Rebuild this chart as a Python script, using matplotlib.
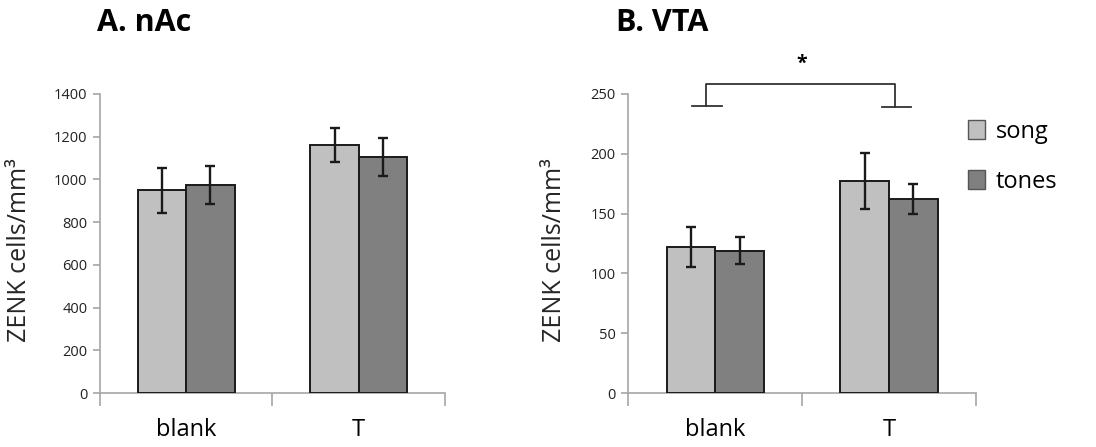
import matplotlib
matplotlib.use("Agg")
import matplotlib.pyplot as plt
import numpy as np

plt.rcParams['font.family'] = ['Open Sans', 'DejaVu Sans']

categories = ["blank", "T"]
series = ["song", "tones"]
colors = ["#C0C0C0", "#808080"]

nac_song = [950, 1162]
nac_song_err = [105, 80]
nac_tones = [975, 1105]
nac_tones_err = [88, 88]

vta_song = [122, 177.5]
vta_song_err = [17, 23.5]
vta_tones = [119, 162.5]
vta_tones_err = [11.5, 12.5]

fig = plt.figure(figsize=(10.96, 4.47), dpi=100)
axA = fig.add_axes([0.0912, 0.1208, 0.3148, 0.669])
axB = fig.add_axes([0.5733, 0.1208, 0.3172, 0.669])

spine_col = "#A6A6A6"
width = 0.28
x = np.arange(len(categories)) + 0.5
ekw = dict(elinewidth=1.7, capthick=1.7, ecolor="#1a1a1a")


def draw(ax, s, se, t, te, ymax, ystep, label_x):
    ax.bar(x - width / 2, s, width, color=colors[0], edgecolor="#1a1a1a", linewidth=1.4,
           yerr=se, capsize=3.8, error_kw=ekw, label=series[0], zorder=3)
    ax.bar(x + width / 2, t, width, color=colors[1], edgecolor="#1a1a1a", linewidth=1.4,
           yerr=te, capsize=3.8, error_kw=ekw, label=series[1], zorder=3)
    ax.set_xlim(0, 2)
    ax.set_ylim(0, ymax)
    ax.set_yticks(np.arange(0, ymax + 1, ystep))
    ax.tick_params(axis="y", labelsize=10.5, length=5, color=spine_col, labelcolor="#222222", width=1.2, pad=4)
    ax.set_xticks([0, 1, 2])
    ax.set_xticklabels([])
    ax.tick_params(axis="x", which="major", length=9, color=spine_col, width=1.2)
    ax.set_xticks(x, minor=True)
    ax.set_xticklabels(categories, minor=True, fontsize=17)
    ax.tick_params(axis="x", which="minor", length=0, pad=18)
    for sp in ["top", "right"]:
        ax.spines[sp].set_visible(False)
    for sp in ["left", "bottom"]:
        ax.spines[sp].set_color(spine_col)
        ax.spines[sp].set_linewidth(1.2)
    ax.set_ylabel("ZENK cells/mm³", fontsize=18, color="#262626")
    ax.yaxis.set_label_coords(label_x, 0.478)


draw(axA, nac_song, nac_song_err, nac_tones, nac_tones_err, 1400, 200, -0.197)
draw(axB, vta_song, vta_song_err, vta_tones, vta_tones_err, 250, 50, -0.176)

fig.text(0.0885, 0.948, "A. nAc", fontsize=22, fontweight="bold", va="center", ha="left")
fig.text(0.562, 0.948, "B. VTA", fontsize=22, fontweight="bold", va="center", ha="left")

# significance bracket
bx = [0.365, 0.537, 0.447, 1.534, 1.458, 1.626]
axB.plot([bx[0], bx[1]], [240, 240], color="#333333", lw=1.3, clip_on=False)
axB.plot([bx[4], bx[5]], [239, 239], color="#333333", lw=1.3, clip_on=False)
axB.plot([bx[2], bx[2], bx[3], bx[3]], [240, 258.5, 258.5, 239], color="#333333", lw=1.3, clip_on=False)
axB.text(1.0, 275, "*", fontsize=14, ha="center", va="center", fontweight="bold")

handles, labels = axB.get_legend_handles_labels()
leg = fig.legend(handles, labels, loc="upper left", bbox_to_anchor=(0.883, 0.732), frameon=False,
                 fontsize=17, handlelength=0.75, handleheight=0.85, handletextpad=0.45,
                 labelspacing=1.1, borderpad=0, borderaxespad=0)
for h in leg.legend_handles:
    h.set_edgecolor("#555555")
    h.set_linewidth(1.0)

fig.savefig("out.png", dpi=100)
